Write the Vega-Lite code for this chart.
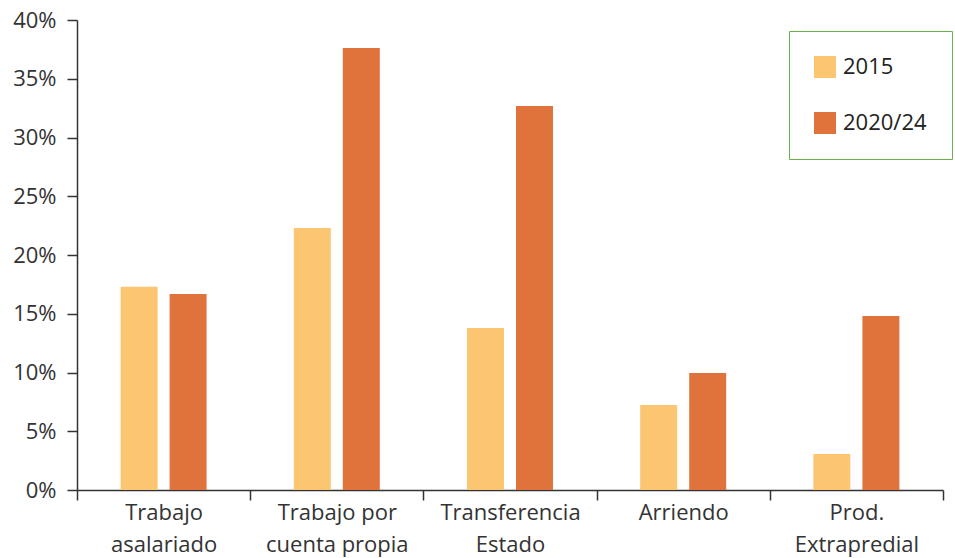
{
  "$schema": "https://vega.github.io/schema/vega-lite/v6.json",
  "width": 866,
  "height": 470,
  "autosize": {"type": "none"},
  "padding": {"left": 77, "top": 20, "right": 12, "bottom": 68},
  "background": "white",
  "config": {
    "view": {"stroke": null},
    "font": "Open Sans",
    "axis": {"labelFont": "Open Sans", "labelColor": "#333333", "domainColor": "#333333", "tickColor": "#333333", "grid": false, "title": null}
  },
  "data": {
    "values": [
      {"cat": "Trabajo|asalariado", "year": "2015", "value": 0.1730},
      {"cat": "Trabajo|asalariado", "year": "2020/24", "value": 0.1668},
      {"cat": "Trabajo por|cuenta propia", "year": "2015", "value": 0.2230},
      {"cat": "Trabajo por|cuenta propia", "year": "2020/24", "value": 0.3762},
      {"cat": "Transferencia|Estado", "year": "2015", "value": 0.1379},
      {"cat": "Transferencia|Estado", "year": "2020/24", "value": 0.3268},
      {"cat": "Arriendo", "year": "2015", "value": 0.0723},
      {"cat": "Arriendo", "year": "2020/24", "value": 0.0996},
      {"cat": "Prod.|Extrapredial", "year": "2015", "value": 0.0306},
      {"cat": "Prod.|Extrapredial", "year": "2020/24", "value": 0.1481}
    ]
  },
  "mark": {"type": "bar"},
  "encoding": {
    "x": {
      "field": "cat",
      "type": "nominal",
      "sort": null,
      "scale": {"paddingInner": 0, "paddingOuter": 0},
      "axis": {
        "labelAngle": 0,
        "labelFontSize": 22,
        "labelExpr": "split(datum.label, '|')",
        "labelLineHeight": 32,
        "labelBaseline": "top",
        "labelPadding": 2,
        "tickBand": "extent",
        "tickSize": 10,
        "tickWidth": 1.5,
        "domainWidth": 1.5,
        "labelLimit": 0
      }
    },
    "xOffset": {
      "field": "year",
      "type": "nominal",
      "scale": {"paddingInner": 0.245, "paddingOuter": 0.89}
    },
    "y": {
      "field": "value",
      "type": "quantitative",
      "scale": {"domain": [0, 0.4], "nice": false},
      "axis": {
        "values": [0, 0.05, 0.1, 0.15, 0.2, 0.25, 0.3, 0.35, 0.4],
        "format": ".0%",
        "labelFontSize": 22,
        "labelPadding": 11,
        "tickSize": 10,
        "tickWidth": 1.5,
        "domainWidth": 1.5
      }
    },
    "color": {
      "field": "year",
      "type": "nominal",
      "scale": {"domain": ["2015", "2020/24"], "range": ["#FBC572", "#E0733B"]},
      "legend": {
        "title": null,
        "orient": "none",
        "legendX": 712,
        "legendY": 11,
        "symbolType": "square",
        "symbolSize": 484,
        "symbolStrokeWidth": 0,
        "labelFontSize": 22,
        "labelColor": "#222222",
        "labelOffset": 7,
        "rowPadding": 34,
        "padding": 25,
        "strokeColor": "#6AB04C",
        "fillColor": "white"
      }
    }
  }
}
